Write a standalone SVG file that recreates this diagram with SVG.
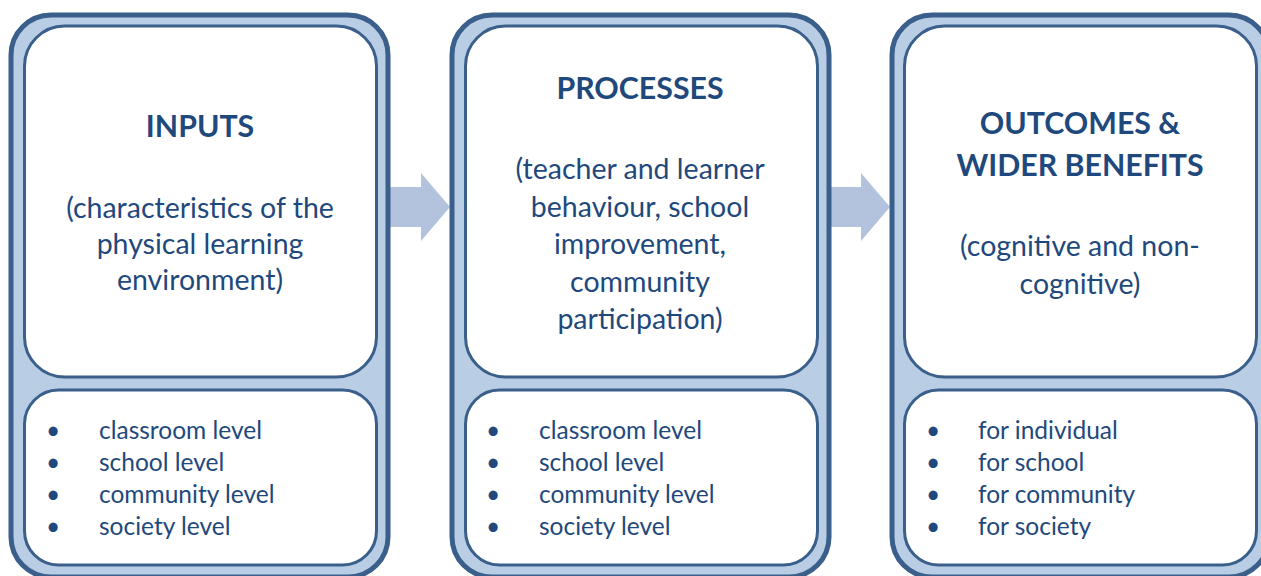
<svg xmlns="http://www.w3.org/2000/svg" width="1261" height="576" viewBox="0 0 1261 576">
<style>
.outer{fill:#b9cde5;stroke:#3a5f8b;stroke-width:5}
.inner{fill:#fff;stroke:#3a5f8b;stroke-width:3}
.arrow{fill:#b3c3de}
text{font-family:Lato,"Open Sans",sans-serif;fill:#1f497d}
.h{font-weight:bold;font-size:30.3px;text-anchor:middle}
.b{font-size:28.5px;text-anchor:middle}
.l{font-size:24.5px}
</style>
<rect width="1261" height="576" fill="#fff"/>
<g id="connectors">
<polygon class="arrow" points="390,187 421,187 421,173 450,207 421,241 421,227 390,227"/>
<polygon class="arrow" points="830,187 861,187 861,173 890,207 861,241 861,227 830,227"/>
</g>
<g id="inputs">
<rect class="outer" x="11" y="15" width="377" height="562" rx="40"/>
<rect class="inner" x="24.5" y="26" width="352" height="351" rx="40"/>
<rect class="inner" x="24.5" y="390" width="352" height="175" rx="34"/>
<text class="h" x="200" y="137">INPUTS</text>
<text class="b" x="200" y="218">(characteristics of the</text>
<text class="b" x="200" y="254">physical learning</text>
<text class="b" x="200" y="290">environment)</text>
<text class="l"><tspan x="46" y="439">•</tspan><tspan x="99">classroom level</tspan></text>
<text class="l"><tspan x="46" y="471">•</tspan><tspan x="99">school level</tspan></text>
<text class="l"><tspan x="46" y="503">•</tspan><tspan x="99">community level</tspan></text>
<text class="l"><tspan x="46" y="535">•</tspan><tspan x="99">society level</tspan></text>
</g>
<g id="processes">
<rect class="outer" x="452" y="15" width="377" height="562" rx="40"/>
<rect class="inner" x="465.5" y="26" width="352" height="351" rx="40"/>
<rect class="inner" x="465.5" y="390" width="352" height="175" rx="34"/>
<text class="h" x="640" y="99">PROCESSES</text>
<text class="b" x="640" y="179">(teacher and learner</text>
<text class="b" x="640" y="217">behaviour, school</text>
<text class="b" x="640" y="254">improvement,</text>
<text class="b" x="640" y="292">community</text>
<text class="b" x="640" y="329">participation)</text>
<text class="l"><tspan x="486" y="439">•</tspan><tspan x="539">classroom level</tspan></text>
<text class="l"><tspan x="486" y="471">•</tspan><tspan x="539">school level</tspan></text>
<text class="l"><tspan x="486" y="503">•</tspan><tspan x="539">community level</tspan></text>
<text class="l"><tspan x="486" y="535">•</tspan><tspan x="539">society level</tspan></text>
</g>
<g id="outcomes">
<rect class="outer" x="892" y="15" width="377" height="562" rx="40"/>
<rect class="inner" x="904.5" y="26" width="352" height="351" rx="40"/>
<rect class="inner" x="904.5" y="390" width="352" height="175" rx="34"/>
<text class="h" x="1080" y="134">OUTCOMES &amp;</text>
<text class="h" x="1080" y="176">WIDER BENEFITS</text>
<text class="b" x="1080" y="256">(cognitive and non-</text>
<text class="b" x="1080" y="294">cognitive)</text>
<text class="l"><tspan x="926" y="439">•</tspan><tspan x="978">for individual</tspan></text>
<text class="l"><tspan x="926" y="471">•</tspan><tspan x="978">for school</tspan></text>
<text class="l"><tspan x="926" y="503">•</tspan><tspan x="978">for community</tspan></text>
<text class="l"><tspan x="926" y="535">•</tspan><tspan x="978">for society</tspan></text>
</g>
</svg>
